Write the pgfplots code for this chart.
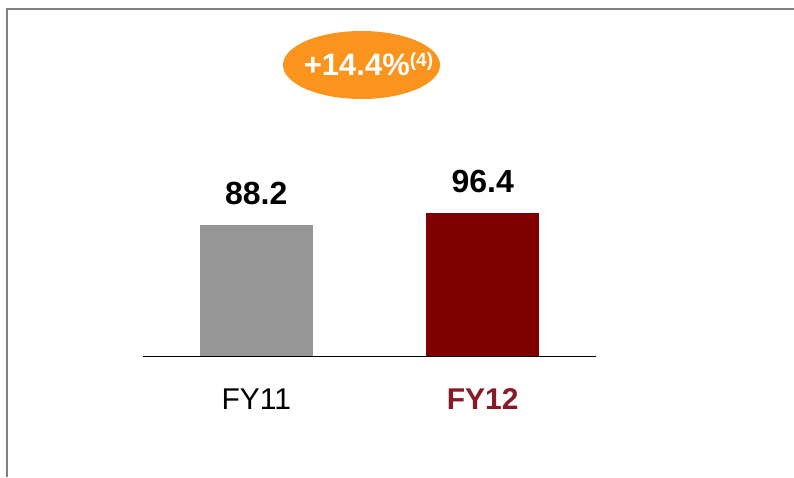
\documentclass[border=0pt]{standalone}
\usepackage{fontspec}
\setmainfont{Liberation Sans}
\usepackage{pgfplots}
\pgfplotsset{compat=1.18}
\usetikzlibrary{shapes.geometric}

\definecolor{barfy11}{RGB}{150,150,150}
\definecolor{barfy12}{RGB}{128,0,0}
\definecolor{lblfy12}{RGB}{134,27,40}
\definecolor{bubble}{RGB}{250,148,28}
\definecolor{frame}{RGB}{128,128,128}

\begin{document}
\begin{tikzpicture}[x=1pt,y=1pt]
\useasboundingbox (0,0) rectangle (794,477);
% frame (top and left only)
\draw[frame, line width=2pt] (7,0) -- (7,467.7) -- (794,467.7);

\begin{axis}[
    at={(143pt,121pt)}, anchor=south west,
    scale only axis, width=453pt, height=148.3pt,
    xmin=-0.5, xmax=1.5, ymin=0, ymax=100,
    clip=false,
    axis x line=bottom, axis y line=none,
    axis line style={-, black, line width=0.8pt},
    ybar, bar width=0.5, bar shift=0pt,
    xtick={0,1}, xticklabels={FY11, {\bfseries\color{lblfy12}FY12}},
    major tick length=0pt,
    xticklabel style={anchor=base, yshift=-53pt, font=\fontsize{30}{30}\selectfont},
    /pgf/number format/assume math mode=true,
    /pgf/number format/fixed, /pgf/number format/zerofill,
    /pgf/number format/precision=1,
    nodes near coords,
    nodes near coords style={anchor=base, yshift=21pt,
        font=\fontsize{32}{32}\selectfont\bfseries, text=black},
]
\addplot[fill=barfy11, draw=none] coordinates {(0,88.2)};
\addplot[fill=barfy12, draw=none] coordinates {(1,96.4)};
\end{axis}

% growth bubble
\node[ellipse, fill=bubble, minimum width=157pt, minimum height=68pt, inner sep=0pt]
    at (361.5,412) {};
\node[anchor=base, text=white, inner sep=0pt, font=\fontsize{31}{31}\selectfont\bfseries]
    at (368.5,401) {+14.4\%\raisebox{9pt}{\fontsize{19}{19}\selectfont (4)}};
\end{tikzpicture}
\end{document}
